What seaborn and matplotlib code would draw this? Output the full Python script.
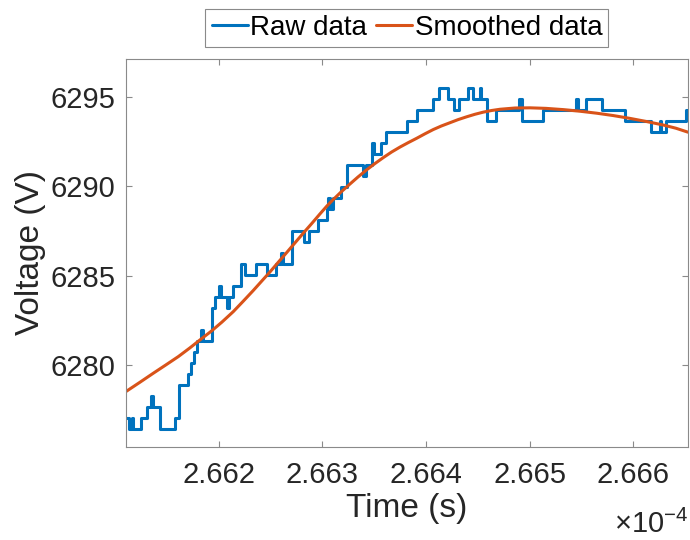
import numpy as np
import pandas as pd
import matplotlib
matplotlib.use("Agg")
import matplotlib.pyplot as plt
import seaborn as sns
from matplotlib.ticker import FuncFormatter, FixedLocator

# Sampled voltage (step changes), time in ns
raw_time_ns = [
    266109.7, 266113.3, 266115.7, 266117.2, 266124.3, 266130.1, 266134.8, 266136.2,
    266143.0, 266157.5, 266160.9, 266170.0, 266173.4, 266175.8, 266179.2, 266182.6,
    266184.5, 266193.0, 266195.7, 266200.0, 266201.9, 266207.7, 266209.7, 266213.8,
    266221.0, 266225.6, 266235.3, 266246.4, 266255.4, 266259.9, 266261.8, 266271.0,
    266282.1, 266287.0, 266296.1, 266304.3, 266305.8, 266307.7, 266309.7, 266317.9,
    266323.2, 266339.1, 266342.5, 266348.3, 266349.8, 266356.5, 266361.8, 266382.1,
    266391.3, 266407.2, 266412.6, 266420.8, 266427.1, 266431.4, 266440.1, 266445.4,
    266451.7, 266453.1, 266459.4, 266467.6, 266489.7, 266492.8, 266512.6, 266545.2,
    266546.7, 266554.9, 266570.5, 266591.8, 266616.9, 266626.1, 266627.5, 266631.4,
    266650.7, 266655.0,
]
raw_voltage = [
    6277.06, 6276.45, 6277.06, 6276.45, 6277.06, 6277.68, 6278.29, 6277.68,
    6276.45, 6277.06, 6278.91, 6279.52, 6280.14, 6280.75, 6281.37, 6281.98,
    6281.37, 6283.21, 6283.83, 6284.44, 6283.83, 6283.21, 6283.83, 6284.44,
    6285.67, 6285.06, 6285.67, 6285.06, 6285.67, 6286.29, 6285.67, 6287.52,
    6286.90, 6287.52, 6288.13, 6288.75, 6289.36, 6288.75, 6289.36, 6289.98,
    6291.21, 6290.59, 6291.21, 6292.44, 6291.82, 6292.44, 6293.05, 6293.67,
    6294.28, 6294.90, 6295.51, 6294.90, 6294.28, 6294.90, 6295.51, 6294.90,
    6295.51, 6294.90, 6293.67, 6294.28, 6294.90, 6293.67, 6294.28, 6294.90,
    6294.28, 6294.90, 6294.28, 6293.67, 6293.05, 6293.67, 6293.05, 6293.67,
    6294.28, 6294.28,
]

# Smoothed voltage, time in ns
smooth_time_ns = [
    266109.9, 266123.7, 266136.5, 266148.8, 266160.7, 266172.0, 266181.6, 266193.0,
    266202.9, 266213.8, 266223.2, 266233.1, 266241.5, 266249.3, 266257.0, 266265.4,
    266273.4, 266281.4, 266289.9, 266297.6, 266304.3, 266310.4, 266317.9, 266326.6,
    266334.3, 266342.7, 266350.7, 266358.7, 266366.7, 266374.9, 266382.6, 266391.0,
    266399.0, 266407.1, 266415.0, 266423.2, 266430.9, 266439.3, 266447.3, 266455.4,
    266463.3, 266471.5, 266486.0, 266500.5, 266515.9, 266532.7, 266548.8, 266564.9,
    266580.7, 266597.1, 266613.5, 266629.3, 266641.5, 266653.1,
]
smooth_voltage = [
    6278.53, 6279.06, 6279.56, 6280.03, 6280.49, 6280.98, 6281.42, 6281.93,
    6282.42, 6283.00, 6283.57, 6284.18, 6284.72, 6285.22, 6285.74, 6286.30,
    6286.84, 6287.38, 6287.94, 6288.46, 6288.90, 6289.26, 6289.68, 6290.13,
    6290.52, 6290.92, 6291.27, 6291.60, 6291.91, 6292.19, 6292.43, 6292.68,
    6292.93, 6293.17, 6293.37, 6293.55, 6293.72, 6293.88, 6294.02, 6294.14,
    6294.23, 6294.30, 6294.37, 6294.38, 6294.35, 6294.28, 6294.19, 6294.08,
    6293.95, 6293.79, 6293.61, 6293.42, 6293.24, 6293.02,
]

x_ticks_ns = [266200, 266300, 266400, 266500, 266600]
y_ticks = [6280, 6285, 6290, 6295]
x_limits_ns = (266109.9, 266653.1)
y_limits = (6275.46, 6297.09)

sns.set_theme(style="ticks")
plt.rcParams["font.family"] = ["Liberation Sans", "DejaVu Sans"]
plt.rcParams["mathtext.fontset"] = "custom"
plt.rcParams["mathtext.rm"] = "Liberation Sans"
plt.rcParams["mathtext.it"] = "Liberation Sans:italic"

text_color = "#262626"
frame_color = "#8a8a8a"

fig = plt.figure(figsize=(6.9, 5.4), dpi=100)
ax = fig.add_axes([0.1822, 0.1728, 0.8149, 0.7174])

raw = pd.DataFrame({"t": np.array(raw_time_ns) * 1e-9, "v": raw_voltage})
smooth = pd.DataFrame({"t": np.array(smooth_time_ns) * 1e-9, "v": smooth_voltage})

sns.lineplot(data=raw, x="t", y="v", ax=ax, color="#0072BD", linewidth=2.2,
             drawstyle="steps-post", estimator=None, sort=False, label="Raw data")
sns.lineplot(data=smooth, x="t", y="v", ax=ax, color="#D95319", linewidth=2.2,
             estimator=None, sort=False, label="Smoothed data")

ax.set_xlim(x_limits_ns[0] * 1e-9, x_limits_ns[1] * 1e-9)
ax.set_ylim(*y_limits)
ax.xaxis.set_major_locator(FixedLocator([v * 1e-9 for v in x_ticks_ns]))
ax.yaxis.set_major_locator(FixedLocator(y_ticks))
ax.xaxis.set_major_formatter(FuncFormatter(lambda v, _: f"{v * 1e4:.3f}"))
ax.yaxis.set_major_formatter(FuncFormatter(lambda v, _: f"{v:.0f}"))

for side in ["top", "right", "bottom", "left"]:
    ax.spines[side].set_visible(True)
    ax.spines[side].set_color(frame_color)
    ax.spines[side].set_linewidth(0.8)

ax.tick_params(axis="both", which="major", direction="in", length=4.5, width=0.8,
               color=frame_color, labelsize=21, labelcolor=text_color,
               top=True, right=True)
ax.tick_params(axis="x", pad=10)
ax.tick_params(axis="y", pad=7.5)

ax.set_xlabel("Time (s)", fontsize=24, color=text_color, labelpad=3)
ax.set_ylabel("Voltage (V)", fontsize=24, color=text_color, labelpad=3)

ax.text(1.0, -0.223, r"$\times10^{-4}$", transform=ax.transAxes, ha="right",
        va="baseline", fontsize=21, color=text_color)

leg = ax.legend(loc="lower center", bbox_to_anchor=(0.5, 1.032), ncol=2,
                fontsize=20, frameon=True, fancybox=False, framealpha=1,
                edgecolor=frame_color, handlelength=1.3, handletextpad=0.1,
                columnspacing=0.3, borderpad=0.22, borderaxespad=0.0)
leg.get_frame().set_linewidth(0.8)
for t in leg.get_texts():
    t.set_color("black")

fig.savefig("out.png", dpi=100, facecolor="white")
